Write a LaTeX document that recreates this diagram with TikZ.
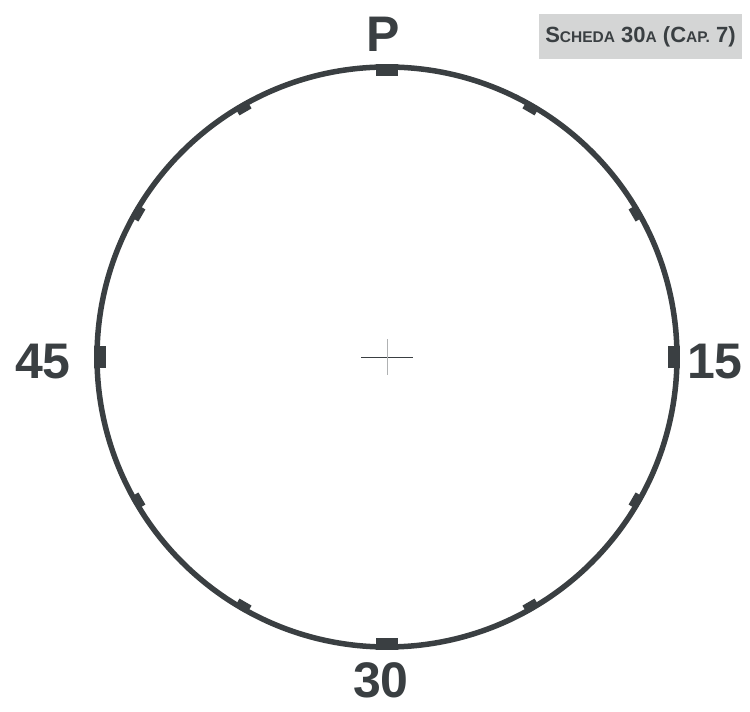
\documentclass[tikz,border=0pt]{standalone}
\usepackage{fontspec}
\setmainfont{Liberation Sans}
\definecolor{ink}{HTML}{3A3F42}
\definecolor{badge}{HTML}{D4D5D5}
\newcommand\sml[1]{{\fontsize{15.5}{15.5}\selectfont #1}}

\begin{document}
\begin{tikzpicture}[x=1pt, y=1pt,
  ring/.style={draw=ink, line width=5.5pt},
  major/.style={fill=ink},
  minor/.style={fill=ink},
  hair/.style={draw=ink, line width=0.9pt},
  num/.style={font=\fontsize{50}{50}\selectfont\bfseries, text=ink, inner sep=0pt},
  tag/.style={fill=badge, text=ink, inner sep=0pt, minimum width=203pt,
              minimum height=45pt, font=\fontsize{22}{22}\selectfont\bfseries},
]
  \useasboundingbox (0,0) rectangle (750,712);
  \coordinate (o) at (387,355);

  \draw[ring] (o) circle (290);
  \foreach \a in {0,90,180,270}
    \fill[major, shift={(o)}, rotate=\a] (281,-11) rectangle (293,11);
  \foreach \a in {30,60,120,150,210,240,300,330}
    \fill[minor, shift={(o)}, rotate=\a] (283,-7) rectangle (290,7);

  \draw[hair] ([xshift=-26pt]o) -- ([xshift=26pt]o);
  \draw[hair, draw=ink!40] ([yshift=-18pt]o) -- ([yshift=18pt]o);

  \node[num] (top)    at (383,678) {P};
  \node[num] (right)  at (715,350) {15};
  \node[num] (bottom) at (381,32)  {30};
  \node[num] (left)   at (43,350)  {45};

  \node[tag] (sheet) at (640.5,675.5) {S\sml{CHEDA} 30\sml{A} (C\sml{AP.} 7)};
\end{tikzpicture}
\end{document}
